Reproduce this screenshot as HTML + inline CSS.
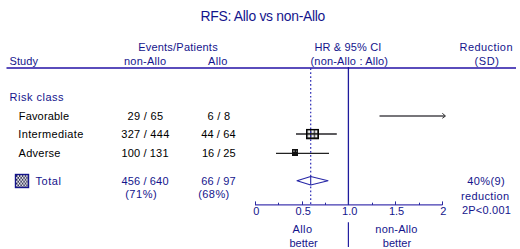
<!DOCTYPE html>
<html><head><meta charset="utf-8"><style>
html,body{margin:0;padding:0;background:#fff;width:520px;height:249px;overflow:hidden}
svg{display:block;font-family:"Liberation Sans",sans-serif}
</style></head><body>
<svg width="520" height="249" viewBox="0 0 520 249">
<defs>
<pattern id="chk" width="2" height="2" patternUnits="userSpaceOnUse">
<rect width="2" height="2" fill="#fff"/><rect width="1" height="1" fill="#000"/><rect x="1" y="1" width="1" height="1" fill="#000"/>
</pattern>
<pattern id="chk2" x="307.4" y="130.2" width="3.6" height="4.4" patternUnits="userSpaceOnUse">
<rect width="3.6" height="4.4" fill="#151515"/><rect x="0.3" y="0.2" width="2.5" height="2.6" fill="#f4f4f4"/>
</pattern>
<pattern id="chkb" x="16" y="175" width="2.9" height="3.8" patternUnits="userSpaceOnUse">
<rect width="2.9" height="3.8" fill="#fff"/><rect width="1.45" height="1.9" fill="#26264a"/><rect x="1.45" y="1.9" width="1.45" height="1.9" fill="#26264a"/>
</pattern>
</defs>
<rect width="520" height="249" fill="#fff"/>
<!-- header underline -->
<line x1="6.5" y1="68" x2="516" y2="68" stroke="#5a4cbc" stroke-width="2"/>
<!-- vertical solid line HR=1 -->
<line x1="348.4" y1="67" x2="348.4" y2="205" stroke="#1e1a9c" stroke-width="1.3"/>
<!-- dotted line -->

<!-- axis -->
<line x1="255" y1="204.8" x2="442.5" y2="204.8" stroke="#4238b0" stroke-width="1.25"/>
<line x1="255.5" y1="201.4" x2="255.5" y2="205" stroke="#2a2aa0" stroke-width="1"/><line x1="278.5" y1="202.7" x2="278.5" y2="205" stroke="#2a2aa0" stroke-width="1"/><line x1="302.5" y1="201.4" x2="302.5" y2="205" stroke="#2a2aa0" stroke-width="1"/><line x1="325.5" y1="202.7" x2="325.5" y2="205" stroke="#2a2aa0" stroke-width="1"/><line x1="348.5" y1="201.4" x2="348.5" y2="205" stroke="#2a2aa0" stroke-width="1"/><line x1="372.5" y1="202.7" x2="372.5" y2="205" stroke="#2a2aa0" stroke-width="1"/><line x1="395.5" y1="201.4" x2="395.5" y2="205" stroke="#2a2aa0" stroke-width="1"/><line x1="419.5" y1="202.7" x2="419.5" y2="205" stroke="#2a2aa0" stroke-width="1"/><line x1="442.5" y1="201.4" x2="442.5" y2="205" stroke="#2a2aa0" stroke-width="1"/>
<!-- separator -->
<line x1="348.4" y1="222.3" x2="348.4" y2="247" stroke="#2420a0" stroke-width="1.2"/>
<!-- favorable arrow -->
<line x1="379.5" y1="116" x2="445" y2="116" stroke="#4a484e" stroke-width="1.7"/>
<polyline points="442.3,113.3 445.5,116 442.3,118.3" fill="none" stroke="#333" stroke-width="1"/>
<!-- intermediate -->
<line x1="296" y1="133.9" x2="336.8" y2="133.9" stroke="#262428" stroke-width="1.5"/>
<rect x="306.6" y="129.5" width="11.8" height="9.2" fill="url(#chk2)" stroke="#000" stroke-width="1.15"/>
<!-- adverse -->
<line x1="276" y1="153.4" x2="329" y2="153.4" stroke="#222" stroke-width="1.4"/>
<rect x="292" y="149" width="6" height="7" fill="#111"/><rect x="293.3" y="150.4" width="1.3" height="1.5" fill="#aaa"/><rect x="296.2" y="150.6" width="1" height="1.2" fill="#888"/>
<line x1="310.7" y1="68.3" x2="310.7" y2="204" stroke="#2c2cb4" stroke-width="1.2" stroke-dasharray="1.7 2.24"/>
<!-- diamond -->
<polygon points="297,180.7 310.7,176.5 328,180.7 310.7,185" fill="#fff" stroke="#2626a6" stroke-width="1.1" stroke-linejoin="round"/>
<line x1="310.7" y1="176.5" x2="310.7" y2="185" stroke="#2626a6" stroke-width="1.1"/>
<!-- total symbol -->
<rect x="15.5" y="174.5" width="13" height="13" fill="url(#chkb)" stroke="#14148c" stroke-width="1.4"/>
<g font-family="Liberation Sans, sans-serif">
<text x="262.9" y="20.9" text-anchor="middle" font-size="13.9" fill="#14148c" textLength="124.8" lengthAdjust="spacing">RFS: Allo vs non-Allo</text>
<text x="177.9" y="50.6" text-anchor="middle" font-size="11" fill="#14148c" textLength="79.5" lengthAdjust="spacing">Events/Patients</text>
<text x="145" y="64.5" text-anchor="middle" font-size="11" fill="#14148c" textLength="42" lengthAdjust="spacing">non-Allo</text>
<text x="217.7" y="64.5" text-anchor="middle" font-size="11" fill="#14148c" textLength="19.5" lengthAdjust="spacing">Allo</text>
<text x="347.9" y="50.6" text-anchor="middle" font-size="11" fill="#14148c" textLength="67" lengthAdjust="spacing">HR &amp; 95% CI</text>
<text x="349.25" y="64.5" text-anchor="middle" font-size="11" fill="#14148c" textLength="77.5" lengthAdjust="spacing">(non-Allo : Allo)</text>
<text x="486" y="50.6" text-anchor="middle" font-size="11" fill="#14148c" textLength="53" lengthAdjust="spacing">Reduction</text>
<text x="486.75" y="64.5" text-anchor="middle" font-size="11" fill="#14148c" textLength="24.5" lengthAdjust="spacing">(SD)</text>
<text x="9.5" y="64.5" text-anchor="start" font-size="11" fill="#14148c" textLength="28.5" lengthAdjust="spacing">Study</text>
<text x="9.5" y="100.5" text-anchor="start" font-size="11" fill="#14148c" textLength="54" lengthAdjust="spacing">Risk class</text>
<text x="18.8" y="120" text-anchor="start" font-size="11" fill="#000" textLength="50.2" lengthAdjust="spacing">Favorable</text>
<text x="18.3" y="137.9" text-anchor="start" font-size="11" fill="#000" textLength="65" lengthAdjust="spacing">Intermediate</text>
<text x="18.6" y="157.3" text-anchor="start" font-size="11" fill="#000" textLength="41.8" lengthAdjust="spacing">Adverse</text>
<text x="145.25" y="120" text-anchor="middle" font-size="11" fill="#000" textLength="35.5" lengthAdjust="spacing">29 / 65</text>
<text x="218.75" y="120" text-anchor="middle" font-size="11" fill="#000" textLength="22.5" lengthAdjust="spacing">6 / 8</text>
<text x="145.25" y="137.9" text-anchor="middle" font-size="11" fill="#000" textLength="48" lengthAdjust="spacing">327 / 444</text>
<text x="218.4" y="137.9" text-anchor="middle" font-size="11" fill="#000" textLength="34.3" lengthAdjust="spacing">44 / 64</text>
<text x="145" y="157.3" text-anchor="middle" font-size="11" fill="#000" textLength="47" lengthAdjust="spacing">100 / 131</text>
<text x="218.75" y="157.3" text-anchor="middle" font-size="11" fill="#000" textLength="33.5" lengthAdjust="spacing">16 / 25</text>
<text x="35.5" y="184.6" text-anchor="start" font-size="11" fill="#14148c" textLength="25.5" lengthAdjust="spacing">Total</text>
<text x="145" y="184.6" text-anchor="middle" font-size="11" fill="#14148c" textLength="47" lengthAdjust="spacing">456 / 640</text>
<text x="140.9" y="198" text-anchor="middle" font-size="11" fill="#14148c" textLength="31.5" lengthAdjust="spacing">(71%)</text>
<text x="218.4" y="184.6" text-anchor="middle" font-size="11" fill="#14148c" textLength="34.3" lengthAdjust="spacing">66 / 97</text>
<text x="213.75" y="198" text-anchor="middle" font-size="11" fill="#14148c" textLength="31" lengthAdjust="spacing">(68%)</text>
<text x="486.0" y="185.1" text-anchor="middle" font-size="11" fill="#14148c" textLength="37.5" lengthAdjust="spacing">40%(9)</text>
<text x="485" y="199.7" text-anchor="middle" font-size="11" fill="#14148c" textLength="48" lengthAdjust="spacing">reduction</text>
<text x="486.4" y="213.5" text-anchor="middle" font-size="11" fill="#14148c" textLength="49" lengthAdjust="spacing">2P&lt;0.001</text>
<text x="256.3" y="215" text-anchor="middle" font-size="11" fill="#14148c">0</text>
<text x="303.2" y="215" text-anchor="middle" font-size="11" fill="#14148c">0.5</text>
<text x="349.7" y="215" text-anchor="middle" font-size="11" fill="#14148c">1.0</text>
<text x="396.6" y="215" text-anchor="middle" font-size="11" fill="#14148c">1.5</text>
<text x="443.4" y="215" text-anchor="middle" font-size="11" fill="#14148c">2</text>
<text x="302.3" y="232.7" text-anchor="middle" font-size="11" fill="#14148c" textLength="19.5" lengthAdjust="spacing">Allo</text>
<text x="303.6" y="246.6" text-anchor="middle" font-size="11" fill="#14148c" textLength="28.3" lengthAdjust="spacing">better</text>
<text x="396.3" y="232.7" text-anchor="middle" font-size="11" fill="#14148c" textLength="42" lengthAdjust="spacing">non-Allo</text>
<text x="396.9" y="246.6" text-anchor="middle" font-size="11" fill="#14148c" textLength="28.3" lengthAdjust="spacing">better</text>
</g>
</svg>
</body></html>
